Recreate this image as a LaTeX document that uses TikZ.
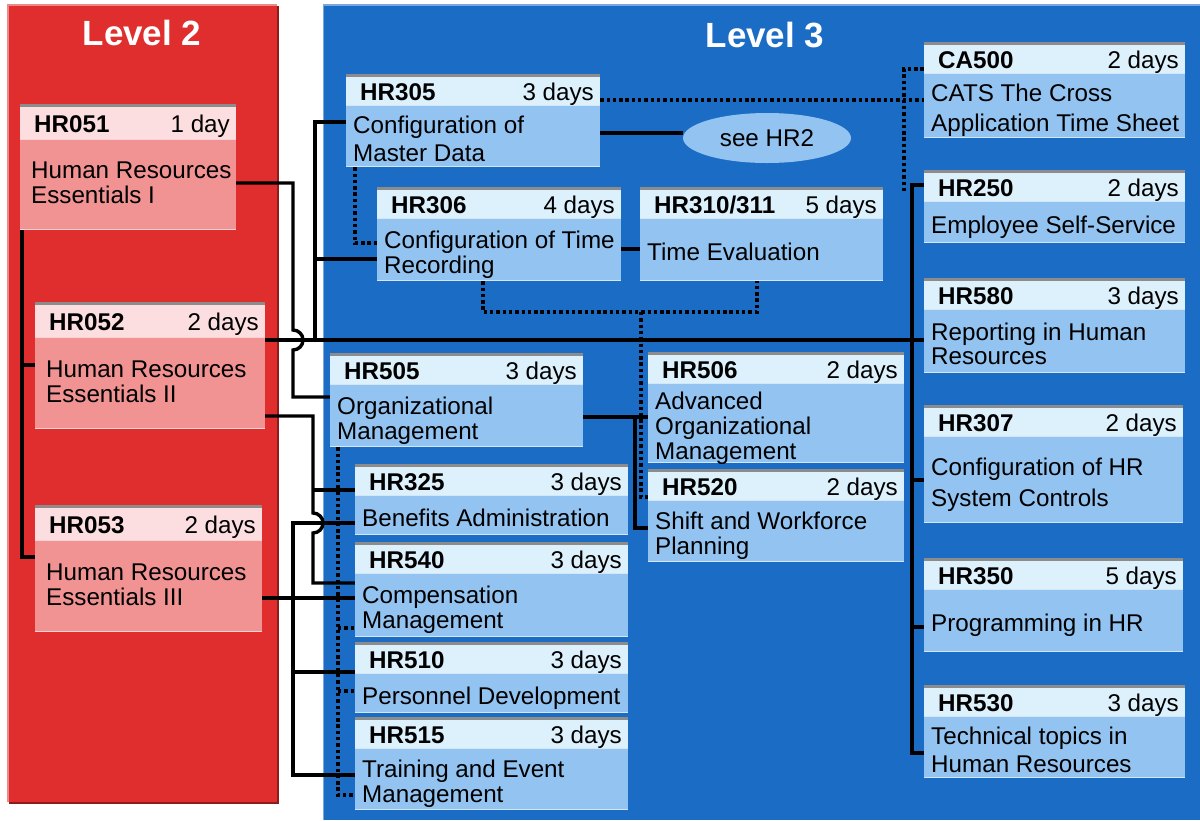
\documentclass[tikz,border=0pt]{standalone}
\usepackage{fontspec}
\setmainfont{Liberation Sans}
\usetikzlibrary{fit,shapes.geometric}

\definecolor{lvltwo}{HTML}{E02E2E}
\definecolor{lvltwolight}{HTML}{EC8888}
\definecolor{lvltwodark}{HTML}{8C1D1D}
\definecolor{lvlthree}{HTML}{1A6CC5}
\definecolor{lvlthreelight}{HTML}{79A8DF}
\definecolor{redhead}{HTML}{FDDEE0}
\definecolor{redbody}{HTML}{F09392}
\definecolor{bluehead}{HTML}{DDF1FD}
\definecolor{bluebody}{HTML}{93C3F1}
\definecolor{boxrule}{HTML}{8C8C8C}

\newcommand\boxfont{\fontsize{24.2}{25}\selectfont}

% course box: name, left, top, right, bottom, header bottom, code, days, description
\newcommand\coursebox[9]{%
  \fill[\boxbody] (#2,#6) rectangle (#4,#5);
  \fill[\boxhead] (#2,#3) rectangle (#4,#6);
  \draw[white, opacity=0.6, line width=1pt] (#2,{#6+0.5}) -- (#4,{#6+0.5});
  \draw[white, opacity=0.6, line width=1.2pt] (#2,{#5-0.6}) -- (#4,{#5-0.6});
  \draw[boxrule, line width=3pt] (#2,{#3+1.5}) -- (#4,{#3+1.5});
  \node[fit={(#2,#3) (#4,#5)}, inner sep=0pt] (#1) {};
  \node[codetxt] at ({#2+14},{(#3+#6)/2+11}) {#7};
  \node[daytxt] at ({#4-6},{(#3+#6)/2+11}) {#8};
  \node[bodytxt] at ({#2+\bodypad},{(#6+#5)/2+\bodyshift}) {#9};
}

\begin{document}
\begin{tikzpicture}[x=1pt,y=-1pt,
  wire/.style={line width=3.4pt, black},
  dotwire/.style={line width=3.5pt, black, dash pattern=on 3.4pt off 2.9pt},
  codetxt/.style={font=\boxfont\bfseries, anchor=base west, inner sep=0pt},
  daytxt/.style={font=\boxfont, anchor=base east, inner sep=0pt},
  bodytxt/.style={font=\boxfont, anchor=west, align=left, inner sep=0pt, text depth=5pt},
  leveltitle/.style={font=\fontsize{35}{40}\selectfont\bfseries, text=white, inner sep=0pt},
  noteoval/.style={ellipse, fill=bluebody, minimum width=168pt, minimum height=50pt, inner sep=0pt, font=\boxfont}]

\useasboundingbox (0,0) rectangle (1200,820);
\fill[white] (0,0) rectangle (1200,820);

% level panels
\fill[lvltwo] (7,4) rectangle (277,802);
\draw[lvltwodark, line width=2.5pt] (278.2,6) -- (278.2,803.2) -- (9,803.2);
\draw[lvltwolight, line width=1.5pt] (7.75,802) -- (7.75,4.75) -- (277,4.75);
\fill[lvlthree] (323,4) rectangle (1200,820);
\draw[lvlthreelight, line width=2pt] (323,5) -- (1200,5);
\draw[lvlthreelight, line width=1pt] (323.5,5) -- (323.5,820);

\node[leveltitle] (lvl2) at (142,33) {Level 2};
\node[leveltitle] (lvl3) at (765,35) {Level 3};

% level 2 courses
\def\boxhead{redhead}\def\boxbody{redbody}\def\bodyshift{1}\def\bodypad{11}
\coursebox{HR051}{20}{104}{236}{230}{139}{HR051}{1 day}{Human Resources\\Essentials I}
\coursebox{HR052}{35}{302}{265}{429}{337}{HR052}{2 days}{Human Resources\\Essentials II}
\coursebox{HR053}{35}{505}{262}{632}{540}{HR053}{2 days}{Human Resources\\Essentials III}

% level 3 courses
\def\boxhead{bluehead}\def\boxbody{bluebody}\def\bodyshift{5}\def\bodypad{7}
\coursebox{HR305}{346}{74}{600}{167}{105}{HR305}{3 days}{Configuration of\\[3pt]Master Data}
\coursebox{HR306}{377}{187}{621}{281}{218}{HR306}{4 days}{Configuration of Time\\Recording}
\coursebox{HR310}{640}{187}{883}{281}{218}{HR310/311}{5 days}{Time Evaluation}
\coursebox{CA500}{924}{42}{1185}{138}{73}{CA500}{2 days}{CATS The Cross\\[5pt]Application Time Sheet}
\coursebox{HR250}{924}{170}{1185}{243}{201}{HR250}{2 days}{Employee Self-Service}
\coursebox{HR580}{924}{278}{1185}{373}{309}{HR580}{3 days}{Reporting in Human\\[-1pt]Resources}
\coursebox{HR307}{924}{405}{1183}{523}{436}{HR307}{2 days}{Configuration of HR\\[6pt]System Controls}
\coursebox{HR350}{924}{558}{1183}{652}{589}{HR350}{5 days}{Programming in HR}
\coursebox{HR530}{924}{685}{1185}{778}{716}{HR530}{3 days}{Technical topics in\\[3pt]Human Resources}
\coursebox{HR505}{330}{353}{583}{447}{384}{HR505}{3 days}{Organizational\\Management}
\coursebox{HR506}{648}{352}{904}{463}{383}{HR506}{2 days}{Advanced\\Organizational\\Management}
\coursebox{HR520}{648}{469}{904}{562}{500}{HR520}{2 days}{Shift and Workforce\\Planning}
\coursebox{HR325}{355}{464}{628}{535}{495}{HR325}{3 days}{Benefits Administration}
\coursebox{HR540}{355}{542}{628}{637}{573}{HR540}{3 days}{Compensation\\Management}
\coursebox{HR510}{355}{642}{628}{713}{673}{HR510}{3 days}{Personnel Development}
\coursebox{HR515}{355}{717}{628}{810}{748}{HR515}{3 days}{Training and Event\\Management}

\node[noteoval] (seeHR2) at (767,138) {see HR2};

% level 2 sequence
\draw[wire] (HR051.south -| 22,0) -- (22,557) -- (HR053.west |- 0,557);
\draw[wire] (22,365) -- (HR052.west |- 0,365);

% HR051 leads to HR505
\draw[wire] (HR051.east |- 0,183) -- (293,183) -- (293,330)
  arc[start angle=90, end angle=-90, radius=10pt] -- (293,397) -- (HR505.west |- 0,397);

% HR052 leads to the technical courses
\draw[wire] (HR052.east |- 0,340) -- (HR580.west |- 0,340);
\draw[wire] (HR305.west |- 0,122) -- (315,122) -- (315,340);
\draw[wire] (315,259) -- (HR306.west |- 0,259);
\draw[wire] (HR250.west |- 0,185) -- (912,185) -- (912,753) -- (HR530.west |- 0,753);
\draw[wire] (912,480) -- (HR307.west |- 0,480);
\draw[wire] (912,627) -- (HR350.west |- 0,627);

% HR052 leads to HR325 and HR540
\draw[wire] (HR052.east |- 0,416) -- (313,416) -- (313,513)
  arc[start angle=90, end angle=-90, radius=10pt] -- (313,583) -- (HR540.west |- 0,583);
\draw[wire] (313,490) -- (HR325.west |- 0,490);

% HR053 leads to the personnel courses
\draw[wire] (HR053.east |- 0,598) -- (HR540.west |- 0,598);
\draw[wire] (HR325.west |- 0,523) -- (293,523) -- (293,775) -- (HR515.west |- 0,775);
\draw[wire] (293,672) -- (HR510.west |- 0,672);

% HR505 leads to HR506 and HR520
\draw[wire] (HR505.east |- 0,417) -- (HR506.west |- 0,417);
\draw[wire] (635,417) -- (635,528) -- (HR520.west |- 0,528);

% time management
\draw[wire] (HR305.east |- 0,133) -- (seeHR2.west |- 0,133);
\draw[wire] (HR306.east |- 0,249) -- (HR310.west |- 0,249);

% recommended links (dotted)
\coordinate (catsend) at (904,194);
\draw[dotwire] (HR305.east |- 0,100) -- (CA500.west |- 0,100);
\draw[dotwire] (CA500.west |- 0,69) -- (904,69) -- (catsend);
\draw[dotwire] (HR305.south -| 355,0) -- (355,243) -- (HR306.west |- 0,243);
\draw[dotwire] (HR306.south -| 483,0) -- (483,312) -- (757,312) -- (HR310.south -| 757,0);
\draw[dotwire] (641,312) -- (641,497) -- (HR520.west |- 0,497);
\draw[dotwire] (HR505.south -| 338,0) -- (338,795) -- (HR515.west |- 0,795);
\draw[dotwire] (338,628) -- (HR540.west |- 0,628);
\draw[dotwire] (338,691) -- (HR510.west |- 0,691);

\end{tikzpicture}
\end{document}
